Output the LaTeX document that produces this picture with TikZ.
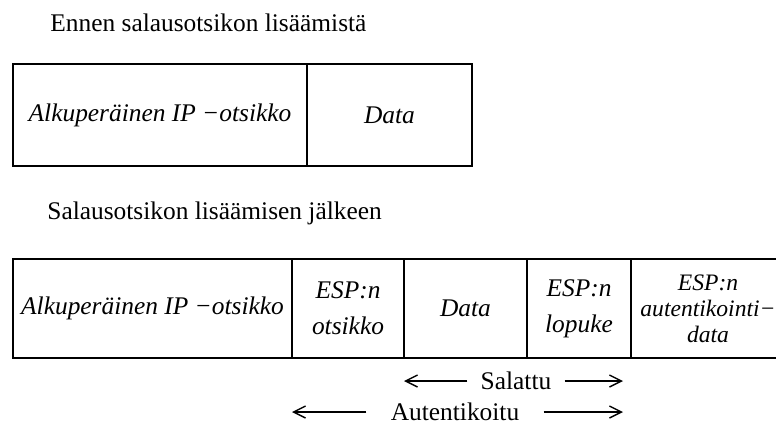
\documentclass[tikz,border=0pt]{standalone}
\usepackage{fontspec}
\setmainfont{Liberation Serif}
\usetikzlibrary{positioning,arrows.meta}

\begin{document}
\begin{tikzpicture}[x=0.5pt,y=-0.5pt]
		\tikzstyle{cell}=[rectangle,draw,line width=0.9pt,outer sep=0pt,
							inner sep=1pt,align=center,anchor=north west,
							font=\fontsize{12.7}{13}\selectfont\itshape]
		\tikzstyle{caption}=[anchor=west,inner sep=0pt,
							font=\fontsize{12.7}{14}\selectfont]
		\tikzstyle{span}=[-{Straight Barb[length=6pt,width=6pt]},line width=0.7pt]

		\useasboundingbox (0,0) rectangle (776,424);
		\clip (0,0) rectangle (776,424);

		% before
		\node[caption] (cap1) at (50,23) {Ennen salausotsikon lisäämistä};
		\node[cell,minimum width=147pt,minimum height=51pt] (ip1) at (13,64)
			{Alkuperäinen IP −otsikko};
		\node[cell,minimum width=82.5pt,minimum height=51pt,right=0pt of ip1] (data1) {Data};

		% after
		\node[caption] (cap2) at (47,213) {Salausotsikon lisäämisen jälkeen};
		\node[cell,minimum width=139.5pt,minimum height=49.5pt] (ip2) at (13,259)
			{Alkuperäinen IP −otsikko};
		\foreach \name/\prev/\w/\fs/\txt in {esph/ip2/56/12.7/{ESP:n\\[5pt]otsikko},
				data2/esph/61.5/12.7/Data, espt/data2/52/12.7/{ESP:n\\[5pt]lopuke},
				espa/espt/77/11.8/{ESP:n\\autentikointi−\\data}}
			\node[cell,minimum width=\w pt,minimum height=49.5pt,
				font=\fontsize{\fs}{13}\selectfont\itshape,right=0pt of \prev] (\name) {\txt};

		% spans
		\node[caption,anchor=center,inner xsep=6.5pt] (enc) at (516,381) {Salattu};
		\coordinate (encL) at (data2.west |- enc);
		\coordinate (encR) at ([xshift=-4pt]espt.east |- enc);
		\draw [span] (enc) -- (encL);
		\draw [span] (enc) -- (encR);

		\node[caption,anchor=center,inner xsep=12pt] (auth) at (455,412) {Autentikoitu};
		\coordinate (authL) at (ip2.east |- auth);
		\coordinate (authR) at ([xshift=-4pt]espt.east |- auth);
		\draw [span] (auth) -- (authL);
		\draw [span] (auth) -- (authR);
\end{tikzpicture}
\end{document}
